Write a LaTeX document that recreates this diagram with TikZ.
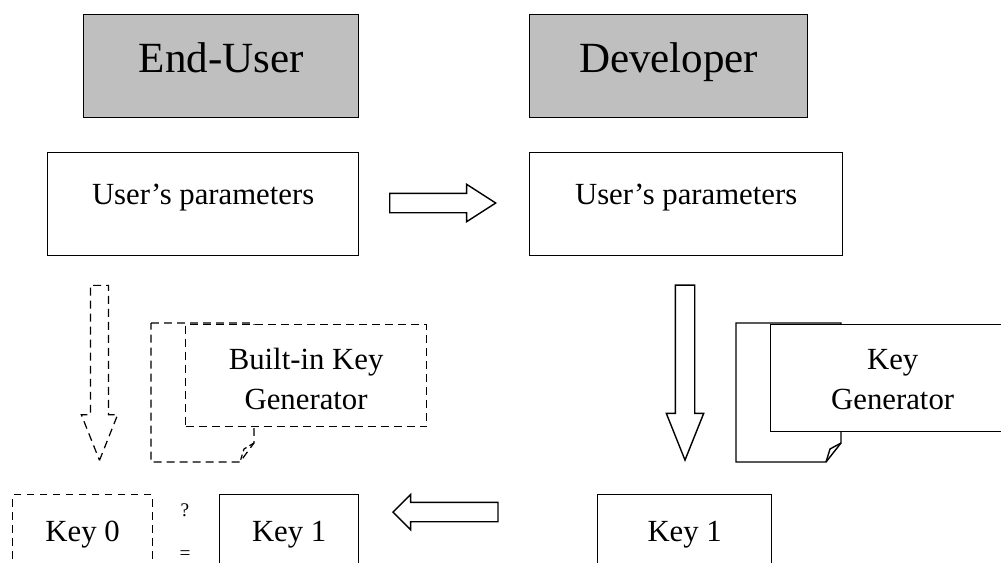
\documentclass[tikz,border=0pt]{standalone}
\usepackage{fontspec}
\setmainfont{Liberation Serif}
\usetikzlibrary{shapes.arrows}

\begin{document}
\begin{tikzpicture}[
    x=0.02cm, y=-0.02cm,
    line width=0.8pt,
    role/.style={rectangle, draw=black, fill=black!25, inner sep=0pt, anchor=north west, text height=33pt, text depth=25.6pt, font=\fontsize{24.5}{29}\selectfont},
    box/.style={rectangle, draw=black, fill=white, inner sep=0pt, anchor=north west, align=center, font=\fontsize{17.5}{22.8}\selectfont},
    dashbox/.style={box, dash pattern=on 4.5pt off 2.9pt, line width=0.7pt},
    sheet/.style={draw=black, fill=white},
    fatarrow/.style={single arrow, draw=black, fill=white, inner sep=0.18cm, single arrow head extend=0.18cm, anchor=tip},
]
\useasboundingbox (0,0) rectangle (1001,562);

% --- Roles ---
\node[role, minimum width=5.5cm] (enduser) at (83,14) {End-User};
\node[role, minimum width=5.56cm] (dev) at (529,14) {Developer};

% --- Parameters sent to the developer ---
\node[box, minimum width=6.22cm, text height=29.6pt, text depth=29pt] (userparam) at (47,152) {User's parameters};
\node[box, minimum width=6.26cm, text height=29.6pt, text depth=29pt] (devparam) at (529,152) {User's parameters};
\node[fatarrow, minimum height=2.12cm, single arrow tip angle=65.5] (send) at (497,203) {};

% --- Developer side key generator (stacked sheets) ---
\draw[sheet] (736,323) -- (841,323) -- (841,443) -- (826,462) -- (736,462) -- cycle;
\draw (841,443) -- (830,449) -- (826,462);
\node[box, minimum width=4.88cm, text height=48.4pt, text depth=12.5pt] (keygen) at (770,324) {Key\\Generator};
\node[fatarrow, minimum height=3.5cm, single arrow tip angle=43.6, shape border rotate=270] (derive) at (685,462) {};

% --- End-user side built-in generator ---
\draw[sheet, dash pattern=on 4.5pt off 2.9pt, line width=0.7pt] (151,323) -- (254,323) -- (254,443) -- (240,462) -- (151,462) -- cycle;
\draw[dash pattern=on 3pt off 2pt, line width=0.7pt] (254,443) -- (244,449) -- (240,462);
\node[dashbox, minimum width=4.82cm, text height=48.4pt, text depth=9.7pt] (builtin) at (185,324) {Built-in Key\\Generator};
\node[fatarrow, dash pattern=on 4.5pt off 2.9pt, line width=0.7pt, inner sep=0.17cm, minimum height=3.5cm, single arrow tip angle=43.4, shape border rotate=270] (local) at (99.5,462) {};

% --- Keys ---
\node[dashbox, minimum width=2.8cm, text height=26.7pt, text depth=33.6pt] (key0) at (12,494) {Key 0};
\node[box, minimum width=2.78cm, text height=26.7pt, text depth=33.6pt] (key1user) at (219,494) {Key 1};
\node[box, minimum width=3.48cm, text height=26.7pt, text depth=33.6pt] (key1dev) at (597,494) {Key 1};
\node[fatarrow, minimum height=2.1cm, single arrow head extend=0.16cm, single arrow tip angle=90, shape border rotate=180] (deliver) at (392,512) {};
\node[font=\fontsize{11}{24.5}\selectfont, align=center, inner sep=0pt, anchor=north] (cmp) at (185,503) {?\\=};

\end{tikzpicture}
\end{document}
